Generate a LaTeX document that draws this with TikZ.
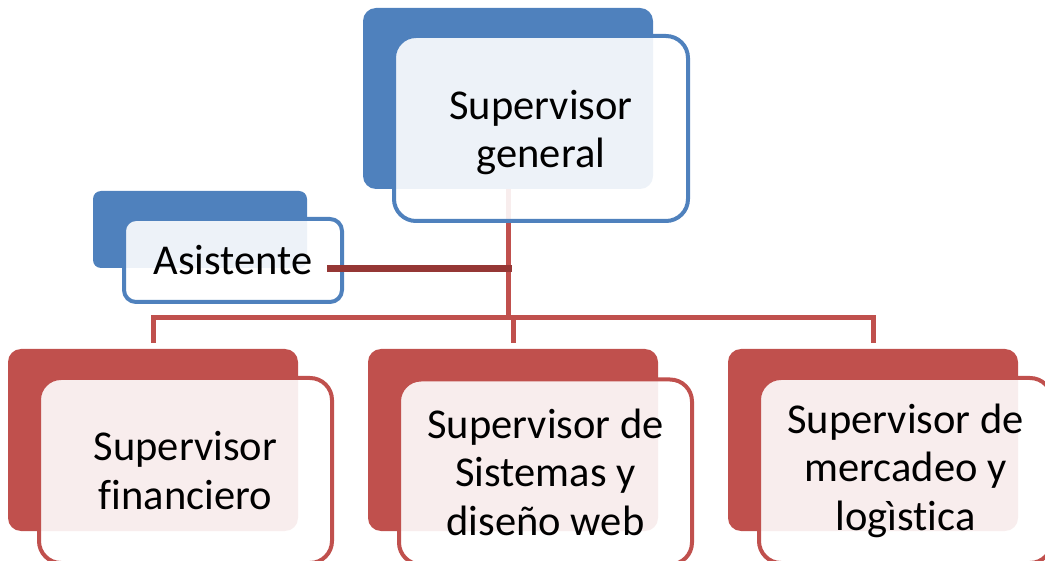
\documentclass[tikz,border=0pt]{standalone}
\usepackage{fontspec}
\setmainfont[Ligatures=NoCommon]{Carlito}
\usetikzlibrary{calc}
\definecolor{cblue}{HTML}{4F81BD}
\definecolor{cred}{HTML}{C0504D}
\definecolor{cdark}{HTML}{953735}
\tikzset{
  bluback/.style={rectangle, fill=cblue, draw=none, rounded corners=13pt, inner sep=0pt},
  redback/.style={rectangle, fill=cred, draw=none, rounded corners=13pt, inner sep=0pt},
  frontbox/.style={rectangle, fill=white, fill opacity=0.9, text opacity=1, line width=4pt,
    rounded corners=22pt, inner sep=0pt, align=center,
    font=\fontsize{42.5}{48.5}\selectfont, text=black},
  bluefront/.style={frontbox, draw=cblue},
  redfront/.style={frontbox, draw=cred},
  conn/.style={draw=cred, line width=5pt, line join=miter},
  asisconn/.style={draw=cdark, line width=7pt}
}
\begin{document}
\begin{tikzpicture}[x=1pt,y=-1pt]
\useasboundingbox (0,0) rectangle (1045,561);
% back boxes
\node[bluback, minimum width=290pt, minimum height=181pt] (gB) at (508,98.5) {};
\node[bluback, minimum width=214pt, minimum height=77pt, rounded corners=8pt] (aB) at (200,229.5) {};
\node[redback, minimum width=290pt, minimum height=182pt] (c1B) at (153,440) {};
\node[redback, minimum width=290pt, minimum height=182pt] (c2B) at (513,440) {};
\node[redback, minimum width=290pt, minimum height=182pt] (c3B) at (873,440) {};
% connectors
\coordinate (bus) at (gB.south |- 0,318);
\draw[conn] (gB.south) -- (bus);
\draw[conn, shorten <=6pt] (c1B.north) |- (bus);
\draw[conn, shorten <=6pt] (c2B.north) -- (c2B.north |- bus);
\draw[conn, shorten <=6pt] (c3B.north) |- (bus);
% front boxes
\node[bluefront, minimum width=294pt, minimum height=185pt] (gF) at (541,128.5) {};
\node[font=\fontsize{42.5}{48.5}\selectfont, align=center, inner sep=0pt] (gT) at ([yshift=-4pt]gF.center) {Supervisor\\general};
\node[bluefront, minimum width=218pt, minimum height=83pt, rounded corners=12pt] (aF) at (233,260.5) {Asistente};
\node[redfront, minimum width=293pt, minimum height=185pt] (c1F) at (185.5,470.5) {Supervisor\\financiero};
\node[redfront, minimum width=293pt, minimum height=185pt] (c2F) at (545.5,472) {Supervisor de\\Sistemas y\\diseño web};
\node[redfront, minimum width=293pt, minimum height=185pt] (c3F) at (905.5,470.5) {Supervisor de\\mercadeo y\\logìstica};
% assistant connector
\draw[asisconn] ([xshift=20pt]aB.south east) -- ([xshift=4pt]gB.south |- aB.south);
\end{tikzpicture}
\end{document}
